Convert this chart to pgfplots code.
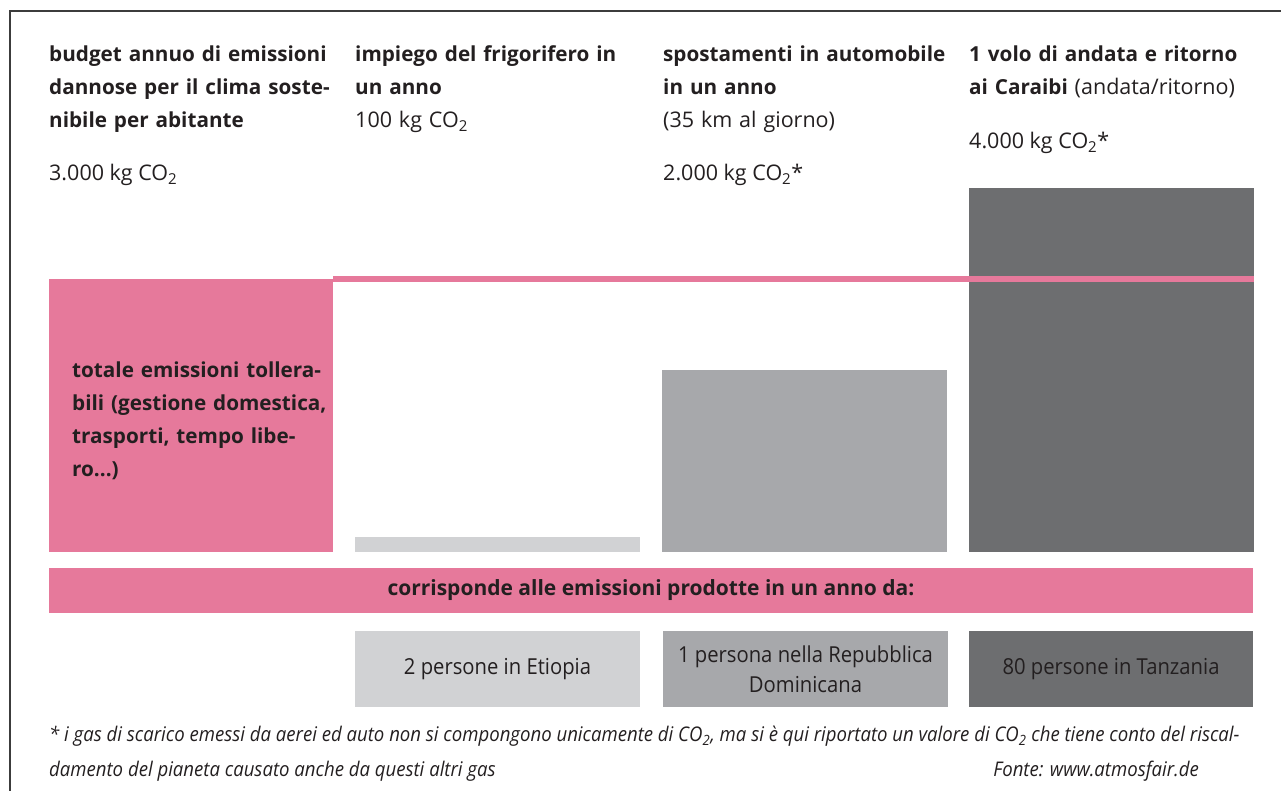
\documentclass[border=0pt]{standalone}
\usepackage{fontspec}
\setmainfont{Open Sans}
\newfontfamily\condfont[FakeStretch=0.92]{Open Sans}
\usepackage{pgfplots}
\pgfplotsset{compat=1.18}
\definecolor{cpink}{HTML}{E6799B}
\definecolor{clight}{HTML}{D1D2D4}
\definecolor{cmid}{HTML}{A7A8AB}
\definecolor{cdark}{HTML}{6D6E70}
\definecolor{ctext}{HTML}{231F20}
\definecolor{cframe}{HTML}{3C3C3C}
\begin{document}
\begin{tikzpicture}
\useasboundingbox (0,0) rectangle (1281pt,791pt);
\begin{axis}[at={(0pt,0pt)}, anchor=south west, scale only axis,
  width=1281pt, height=791pt,
  xmin=-0.6228, xmax=3.5543, ymin=-2626, ymax=6066,
  axis lines=none, clip=false]
\addplot[ybar, bar width=0.9293, bar shift=0pt, fill=cpink, draw=none] coordinates {(0,3000)};
\addplot[ybar, bar width=0.9293, bar shift=0pt, fill=clight, draw=none] coordinates {(1,170)};
\addplot[ybar, bar width=0.9293, bar shift=0pt, fill=cmid, draw=none] coordinates {(2,2000)};
\addplot[ybar, bar width=0.9293, bar shift=0pt, fill=cdark, draw=none] coordinates {(3,4000)};
\addplot[sharp plot, no markers, draw=cpink, line width=5.5pt] coordinates {(0.4646,3000) (3.4646,3000)};
\end{axis}
\begin{scope}[x=1pt,y=-1pt,yshift=791pt, text=ctext]
\draw[cframe, line width=2pt] (10,791) -- (10,11) -- (1281,11);
% headings
\tikzset{head/.style={anchor=base west, inner sep=0pt, align=left, text width=330pt,
  font=\fontsize{20.7}{33}\selectfont\bfseries}}
\tikzset{val/.style={anchor=base west, inner sep=0pt, font=\fontsize{21.5}{33}\selectfont}}
\node[head] at (49,62) {budget annuo di emissioni\\dannose per il clima soste-\\nibile per abitante};
\node[val] at (49,181) {3.000 kg CO\textsubscript{2}};
\node[head] at (355,62) {impiego del frigorifero in\\un anno\\{\mdseries\fontsize{21.5}{33}\selectfont 100 kg CO\textsubscript{2}}};
\node[head] at (663,62) {spostamenti in automobile\\in un anno\\{\mdseries\fontsize{21.5}{33}\selectfont (35 km al giorno)}};
\node[val] at (663,181) {2.000 kg CO\textsubscript{2}*};
\node[head] at (969,62) {1 volo di andata e ritorno\\ai Caraibi {\mdseries\fontsize{21.5}{33}\selectfont (andata/ritorno)}};
\node[val] at (969,149) {4.000 kg CO\textsubscript{2}*};
\node[head] at (72,378) {totale emissioni tollera-\\bili (gestione domestica,\\trasporti, tempo libe-\\ro...)};
% band
\fill[cpink] (49,568) rectangle (1253,613);
\node[inner sep=0pt, font=\fontsize{21}{24}\selectfont\bfseries] at (651,590.5) {corrisponde alle emissioni prodotte in un anno da:};
% lower boxes
\fill[clight] (355,631) rectangle (640,707);
\fill[cmid] (663,631) rectangle (948,707);
\fill[cdark] (969,631) rectangle (1253,707);
\tikzset{box/.style={inner sep=0pt, align=center, font=\condfont\fontsize{22}{30}\selectfont}}
\node[box] at (497.5,669) {2 persone in Etiopia};
\node[box] at (805.5,669) {1 persona nella Repubblica\\Dominicana};
\node[box] at (1111,669) {80 persone in Tanzania};
% footnote
\tikzset{foot/.style={anchor=base west, inner sep=0pt, font=\condfont\itshape\fontsize{20.2}{35}\selectfont}}
\node[foot] at (49,742) {* i gas di scarico emessi da aerei ed auto non si compongono unicamente di CO\textsubscript{2}, ma si è qui riportato un valore di CO\textsubscript{2} che tiene conto del riscal-};
\node[foot] at (49,777) {damento del pianeta causato anche da questi altri gas};
\node[foot, anchor=base east] at (1199,777) {Fonte: www.atmosfair.de};
\end{scope}
\end{tikzpicture}
\end{document}
